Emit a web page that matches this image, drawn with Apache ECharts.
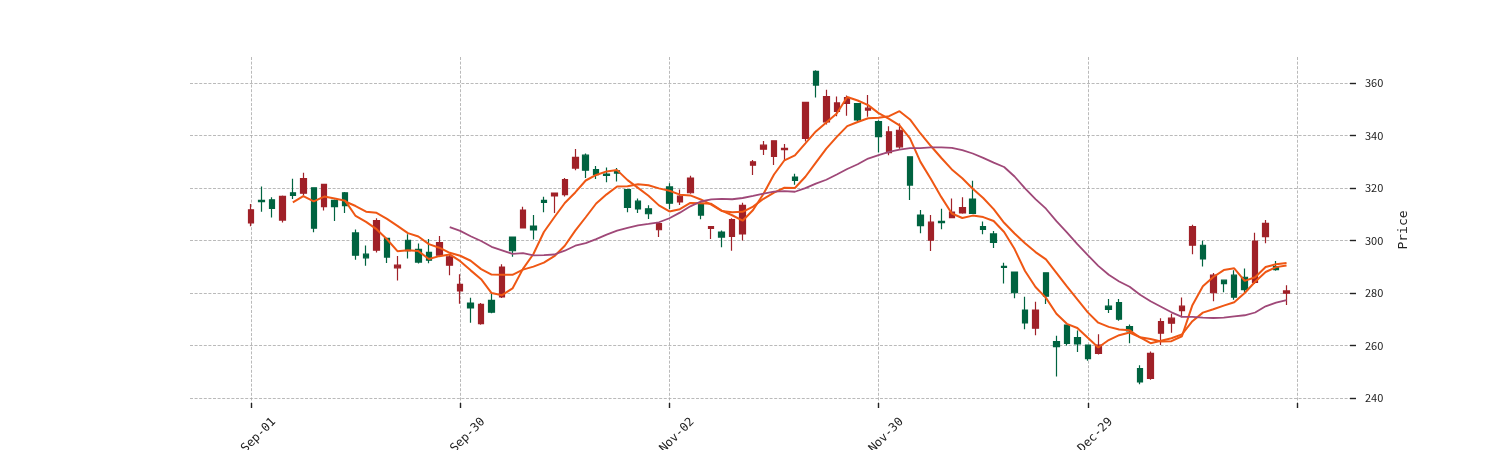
<!DOCTYPE html>
<html>
<head>
<meta charset="utf-8">
<script src="https://cdn.jsdelivr.net/npm/echarts@6/dist/echarts.min.js"></script>
<style>html,body{margin:0;padding:0;background:#fff;}#c{width:1500px;height:450px;}</style>
</head>
<body>
<div id="c"></div>
<script>
// ---- data ----
const opens  = [306.7,315.3,315.5,307.8,318.2,318.0,320.1,312.9,315.3,318.2,
                302.9,294.8,296.3,300.8,289.6,300.1,296.6,295.5,294.4,290.6,
                280.8,276.2,268.3,277.2,278.5,301.3,304.8,305.5,315.3,317.0,
                317.5,327.6,332.5,327.0,325.3,326.5,319.4,315.0,312.1,304.1,
                320.4,314.7,318.2,314.2,304.6,303.2,301.6,302.5,328.7,334.8,
                332.0,334.6,324.2,338.9,364.4,345.2,349.2,352.2,352.2,349.7,
                345.3,333.5,335.7,331.9,309.7,300.1,307.3,308.7,310.5,315.8,
                305.3,302.5,290.2,288.0,273.5,266.6,287.7,261.5,267.8,263.0,
                260.2,257.0,275.0,276.3,267.2,251.2,247.5,264.7,268.5,273.3,
                298.2,298.2,280.1,284.9,286.8,286.0,284.0,301.5,290.1,279.9];
const closes = [311.7,314.8,312.2,316.8,317.2,323.6,304.7,321.4,312.9,313.3,
                294.4,293.4,307.6,293.7,290.6,296.1,291.8,292.5,299.2,293.8,
                283.3,274.3,275.7,272.7,289.9,296.1,311.6,304.0,314.5,318.1,
                323.2,331.7,326.8,325.1,324.8,325.7,312.6,312.0,310.2,306.4,
                314.2,316.9,323.8,309.7,305.3,301.3,308.0,313.4,330.0,336.3,
                338.0,335.1,322.9,352.6,359.2,354.8,352.4,354.4,345.9,350.4,
                339.6,341.4,342.0,321.1,305.7,307.0,306.8,310.8,312.5,310.3,
                304.2,299.3,289.8,280.1,268.6,273.5,278.8,259.6,260.8,260.6,
                255.0,260.2,273.8,270.0,265.6,246.1,257.0,269.1,270.4,275.0,
                305.3,293.0,286.8,283.6,278.4,281.3,299.8,306.5,288.9,280.8];
const lows   = [305.4,311.0,308.8,306.9,315.8,317.1,303.1,311.4,307.4,310.5,
                292.7,290.4,295.4,291.4,284.8,293.1,291.2,291.3,293.8,286.8,
                275.9,268.7,267.9,272.3,278.1,293.8,304.6,300.4,310.8,310.5,
                316.8,326.8,323.8,323.4,322.2,322.5,310.8,310.5,308.2,301.3,
                312.0,313.5,317.8,308.1,300.6,297.4,296.1,300.0,325.0,332.6,
                328.8,330.7,321.2,337.7,354.5,344.2,347.3,347.5,344.9,347.1,
                333.5,332.5,335.0,315.4,302.8,296.0,304.3,308.5,310.2,310.2,
                302.4,297.1,283.6,278.0,266.2,263.9,275.8,248.2,260.0,257.5,
                254.2,256.6,272.4,269.4,260.9,245.2,247.0,260.2,264.9,270.8,
                294.8,290.1,276.9,280.3,277.4,280.2,283.4,299.0,288.5,275.4];
const highs  = [313.9,320.6,316.5,317.1,323.5,325.8,320.1,321.4,315.6,318.5,
                304.2,298.1,308.5,300.8,294.1,302.4,298.9,300.6,301.7,294.5,
                287.1,278.2,276.2,279.7,291.0,301.3,312.9,309.7,316.7,318.3,
                323.8,334.9,333.1,328.4,327.8,327.6,319.4,316.0,313.4,306.4,
                321.8,319.4,324.7,315.0,305.3,303.8,308.5,314.4,330.7,337.9,
                338.0,336.8,325.4,352.6,364.9,357.4,354.9,355.2,352.2,355.4,
                345.8,343.5,344.6,331.9,311.6,309.7,312.1,316.0,316.5,322.8,
                307.2,303.6,291.5,288.0,278.6,276.7,287.7,263.7,268.0,265.7,
                260.2,264.3,277.7,277.7,268.0,252.5,257.7,270.4,272.1,278.3,
                306.0,299.9,287.6,284.9,288.7,289.3,303.0,307.8,292.2,283.0];
const maPeriods  = [5, 10, 20];
const tickIndex  = [0, 20, 40, 60, 80, 100];
const tickLabels = ['2021-Sep-01', '2021-Sep-30', '2021-Nov-02', '2021-Nov-30', '2021-Dec-29', ''];
const yTicks = [240, 360, 20]; // min, max, step

// ---- build series ----
const candleData = opens.map((o, i) => [i, o, closes[i], lows[i], highs[i]]);
function movingAverage(n) {
  const out = [];
  for (let i = n - 1; i < closes.length; i++) {
    let s = 0;
    for (let j = i - n + 1; j <= i; j++) s += closes[j];
    out.push([i, +(s / n).toFixed(2)]);
  }
  return out;
}
const maColors = ['#ef5714', '#ef5714', '#9f4878'];
const maWidths = [2, 2, 1.8];

const chart = echarts.init(document.getElementById('c'), null, {renderer: 'canvas'});
const gridLine = {color: '#a8a8a8', width: 0.8, type: [3, 1.6]};
const numFont = 'Noto Sans CJK SC';
const monoFont = 'DejaVu Sans Mono';
const xLabelFmt = v => { const k = tickIndex.indexOf(v); return k >= 0 ? tickLabels[k] : ''; };

chart.setOption({
  animation: false,
  backgroundColor: '#ffffff',
  grid: [
    {left: 190, right: 150, top: 83, bottom: 52, outerBoundsMode: 'none', containLabel: false},
    {left: 251, right: 203, top: 57, bottom: 47, outerBoundsMode: 'none', containLabel: false},
    {left: 274, right: 180, top: 57, bottom: 47, outerBoundsMode: 'none', containLabel: false}
  ],
  xAxis: [
    {gridIndex: 0, type: 'value', min: -5.832, max: 105.067, show: false,
     axisLine: {onZero: false}},
    {gridIndex: 1, type: 'value', min: tickIndex[0], max: tickIndex[tickIndex.length - 1], interval: 20,
     axisLine: {show: false, onZero: false},
     axisTick: {show: true, length: 5, lineStyle: {color: '#222', width: 1.4}},
     splitLine: {show: true, lineStyle: gridLine},
     axisLabel: {show: false}},
    {gridIndex: 2, type: 'value', min: tickIndex[0], max: tickIndex[tickIndex.length - 1], interval: 20,
     axisLine: {show: false, onZero: false}, axisTick: {show: false}, splitLine: {show: false},
     axisLabel: {rotate: 45, margin: 17, color: '#222', fontSize: 12, fontFamily: monoFont, formatter: xLabelFmt}}
  ],
  yAxis: [
    {gridIndex: 0, type: 'value', position: 'right', min: yTicks[0], max: yTicks[1], interval: yTicks[2],
     axisLine: {show: false, onZero: false},
     axisTick: {show: true, length: 6, lineStyle: {color: '#222', width: 1.4}},
     splitLine: {show: true, lineStyle: gridLine},
     axisLabel: {margin: 15, color: '#222', fontSize: 11, fontFamily: numFont}},
    {gridIndex: 1, type: 'value', position: 'right', min: 0, max: 1,
     axisLine: {show: false, onZero: false}, axisTick: {show: false}, axisLabel: {show: false}, splitLine: {show: false},
     name: 'Price', nameLocation: 'middle', nameGap: 100, nameRotate: 90,
     nameTextStyle: {color: '#222', fontSize: 13, fontFamily: monoFont}},
    {gridIndex: 2, type: 'value', show: false, min: 0, max: 1, axisLine: {onZero: false}}
  ],
  series: [
    {
      type: 'candlestick', xAxisIndex: 0, yAxisIndex: 0, clip: false,
      encode: {x: 0, y: [1, 2, 3, 4]},
      data: candleData, barWidth: 6,
      itemStyle: {color: '#a02128', color0: '#006340', borderColor: '#a02128', borderColor0: '#006340', borderWidth: 1.2}
    }
  ].concat(maPeriods.map((n, k) => ({
    type: 'line', xAxisIndex: 0, yAxisIndex: 0, name: 'MA' + n,
    data: movingAverage(n), showSymbol: false, symbol: 'none', smooth: false, z: 3,
    lineStyle: {color: maColors[k], width: maWidths[k]}
  })))
});
</script>
</body>
</html>
